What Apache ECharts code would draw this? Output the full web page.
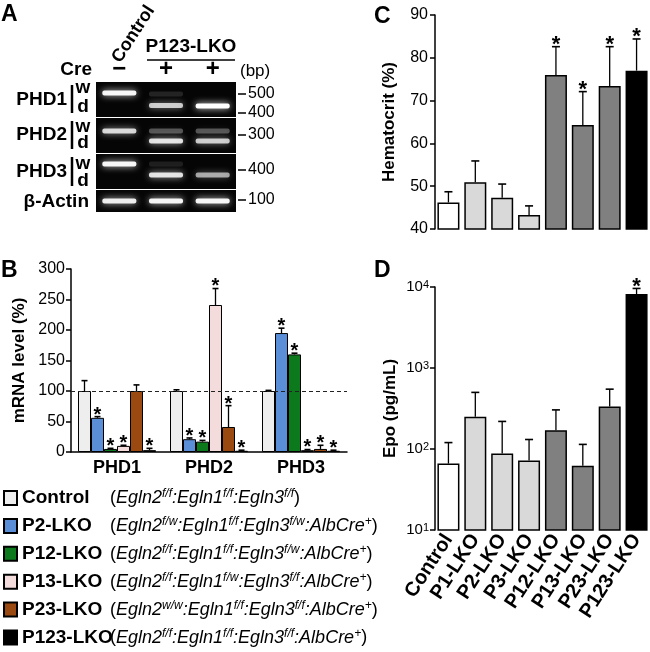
<!DOCTYPE html>
<html><head><meta charset="utf-8">
<script src="https://cdn.jsdelivr.net/npm/echarts@6/dist/echarts.min.js"></script>
<style>html,body{margin:0;padding:0;background:#fff}#c{width:650px;height:652px}</style>
</head><body><div id="c"></div>
<script>
const FONT = '"Liberation Sans", Arial, Helvetica, sans-serif';

// ---------- Panel A (gel) ----------
const gelLanes = ['Control', 'P123-LKO #1', 'P123-LKO #2'];
const creSigns = ['−', '+', '+'];
const gelNames = ['PHD1', 'PHD2', 'PHD3', 'β-Actin'];
const gelRangeBp = [[379, 563], [205, 389], [300, 484], [37, 153]];
const gelMarkers = [[500, 400], [300], [400], [100]];
// [lane, bp, intensity]
const gelBandsPHD1 = [[0, 505, 0.95], [1, 500, 0.12], [1, 440, 0.75], [2, 437, 1.0]];
const gelBandsPHD2 = [[0, 321, 0.8], [1, 321, 0.3], [1, 268, 0.85], [2, 321, 0.3], [2, 268, 0.75]];
const gelBandsPHD3 = [[0, 432, 0.95], [1, 432, 0.1], [1, 374, 0.85], [2, 374, 0.6]];
const gelBandsActin = [[0, 95, 0.9], [1, 95, 0.95], [2, 95, 0.95]];
const gelBands = [gelBandsPHD1, gelBandsPHD2, gelBandsPHD3, gelBandsActin];

// ---------- Panel B ----------
const catsB = ['PHD1', 'PHD2', 'PHD3'];
const namesB = ['Control', 'P2-LKO', 'P12-LKO', 'P13-LKO', 'P23-LKO', 'P123-LKO'];
const ctrlB = [100, 100, 100];
const p2B = [56, 21, 195];
const p12B = [5, 17, 160];
const p13B = [10, 241, 3];
const p23B = [100, 41, 5];
const p123B = [3, 2, 2];
const ctrlBErr = [17, 2, 1];
const p2BErr = [2, 2, 8];
const p12BErr = [1, 2, 2];
const p13BErr = [1, 27, 1];
const p23BErr = [10, 35, 6];
const p123BErr = [3, 1, 1];
const ctrlBSig = [0, 0, 0];
const p2BSig = [1, 1, 1];
const p12BSig = [1, 1, 1];
const p13BSig = [1, 1, 1];
const p23BSig = [0, 1, 1];
const p123BSig = [1, 1, 1];
const colorsB = ['#eeeeee', '#5a8fd8', '#0c7a1c', '#f5dcdc', '#9a4a10', '#000000'];
const genoEgln2 = ['f/f', 'f/w', 'f/f', 'f/f', 'w/w', 'f/f'];
const genoEgln1 = ['f/f', 'f/f', 'f/f', 'f/w', 'f/f', 'f/f'];
const genoEgln3 = ['f/f', 'f/w', 'f/w', 'f/f', 'f/f', 'f/f'];
const albCre = [false, true, true, true, true, true];

// ---------- Panels C & D ----------
const catsCD = ['Control', 'P1-LKO', 'P2-LKO', 'P3-LKO', 'P12-LKO', 'P13-LKO', 'P23-LKO', 'P123-LKO'];
const colorsCD = ['#ffffff', '#d9d9d9', '#d9d9d9', '#d9d9d9', '#808080', '#808080', '#808080', '#000000'];
const hct = [46.2, 50.9, 47.3, 43.3, 76.0, 64.3, 73.4, 77.0];
const hctErr = [2.5, 5.0, 3.2, 2.1, 6.6, 7.8, 9.2, 7.4];
const hctSig = [0, 0, 0, 0, 1, 1, 1, 1];
const epo = [66, 250, 88, 72, 170, 62, 335, 8200];
const epoErr = [54, 250, 131, 59, 134, 52, 213, 1400];
const epoSig = [0, 0, 0, 0, 0, 0, 0, 1];

// ---------- helpers ----------
function errRender(offsetFn, capW, starSize) {
  return function (params, api) {
    const x = api.value(0), m = api.value(1), e = api.value(2), sig = api.value(3);
    const p0 = api.coord([x, m]);
    const p1 = api.coord([x, m + e]);
    const cx = p0[0] + offsetFn(params);
    const ch = [];
    if (e > 0) {
      ch.push({ type: 'line', shape: { x1: cx, y1: p0[1], x2: cx, y2: p1[1] }, style: { stroke: '#000', lineWidth: 1.3 } });
      ch.push({ type: 'line', shape: { x1: cx - capW / 2, y1: p1[1], x2: cx + capW / 2, y2: p1[1] }, style: { stroke: '#000', lineWidth: 1.6 } });
    }
    if (sig) {
      ch.push({ type: 'text', style: { text: '*', x: cx, y: p1[1] + starSize * 0.42, align: 'center', verticalAlign: 'bottom', font: 'bold ' + starSize + 'px ' + FONT, fill: '#000' } });
    }
    return { type: 'group', children: ch };
  };
}

const valsB = [ctrlB, p2B, p12B, p13B, p23B, p123B];
const errsB = [ctrlBErr, p2BErr, p12BErr, p13BErr, p23BErr, p123BErr];
const sigsB = [ctrlBSig, p2BSig, p12BSig, p13BSig, p23BSig, p123BSig];

const grids = [
  { left: 71, top: 269, width: 276, height: 183 },          // B
  { left: 435, top: 15, width: 215, height: 214 },          // C
  { left: 435, top: 287, width: 215, height: 243 },         // D
  { left: 96, top: 82, width: 140, height: 35, show: true, backgroundColor: '#050505', borderWidth: 0 },
  { left: 96, top: 118, width: 140, height: 35, show: true, backgroundColor: '#050505', borderWidth: 0 },
  { left: 96, top: 154, width: 140, height: 35, show: true, backgroundColor: '#050505', borderWidth: 0 },
  { left: 96, top: 190, width: 140, height: 22, show: true, backgroundColor: '#050505', borderWidth: 0 }
];

const xAxes = [
  { gridIndex: 0, type: 'category', data: catsB, axisLine: { lineStyle: { color: '#000', width: 1.5 } }, axisTick: { show: false },
    axisLabel: { color: '#000', fontWeight: 'bold', fontSize: 18, margin: 7 } },
  { gridIndex: 1, type: 'category', data: catsCD, axisLine: { show: false }, axisTick: { show: false }, axisLabel: { show: false } },
  { gridIndex: 2, type: 'category', data: catsCD, axisLine: { show: false }, axisTick: { show: false },
    axisLabel: { color: '#000', fontWeight: 'bold', fontSize: 20, rotate: 57, interval: 0, margin: 6 } }
];
const yAxes = [
  { gridIndex: 0, type: 'value', min: 0, max: 300, interval: 50, splitLine: { show: false },
    axisLine: { show: true, lineStyle: { color: '#000', width: 1.5 } }, axisTick: { show: true, length: 5, lineStyle: { color: '#000', width: 1.5 } },
    axisLabel: { color: '#000', fontSize: 16, margin: 6 },
    name: 'mRNA level (%)', nameLocation: 'middle', nameGap: 43, nameTextStyle: { color: '#000', fontWeight: 'bold', fontSize: 17 } },
  { gridIndex: 1, type: 'value', min: 40, max: 90, interval: 10, splitLine: { show: false },
    axisLine: { show: true, lineStyle: { color: '#000', width: 1.5 } }, axisTick: { show: true, length: 5, lineStyle: { color: '#000', width: 1.5 } },
    axisLabel: { color: '#000', fontSize: 16, margin: 7 },
    name: 'Hematocrit (%)', nameLocation: 'middle', nameGap: 37, nameTextStyle: { color: '#000', fontWeight: 'bold', fontSize: 17 } },
  { gridIndex: 2, type: 'log', logBase: 10, min: 10, max: 10000, splitLine: { show: false }, minorTick: { show: false },
    axisLine: { show: true, lineStyle: { color: '#000', width: 1.5 } }, axisTick: { show: true, length: 5, lineStyle: { color: '#000', width: 1.5 } },
    axisLabel: { color: '#000', fontSize: 15, margin: 6,
      formatter: v => '10{s|' + Math.round(Math.log10(v)) + '}',
      rich: { s: { fontSize: 11, verticalAlign: 'top', lineHeight: 10, color: '#000' } } },
    name: 'Epo (pg/mL)', nameLocation: 'middle', nameGap: 36, nameTextStyle: { color: '#000', fontWeight: 'bold', fontSize: 17 } }
];

// gel axes
for (let g = 0; g < 4; g++) {
  const gi = 3 + g;
  xAxes.push({ gridIndex: gi, type: 'category', data: gelLanes, show: false });
  yAxes.push({ gridIndex: gi, type: 'value', position: 'right', offset: 2, min: gelRangeBp[g][0], max: gelRangeBp[g][1],
    splitLine: { show: false }, axisLine: { show: false },
    axisTick: { show: true, length: 8, customValues: gelMarkers[g], lineStyle: { color: '#000', width: 1.5 } },
    axisLabel: { show: true, customValues: gelMarkers[g], color: '#000', fontSize: 16, margin: 10 } });
}
// header axis (Cre signs) on top of PHD1 gel
xAxes.push({ gridIndex: 3, type: 'category', data: gelLanes, position: 'top', axisLine: { show: false }, axisTick: { show: false },
  axisLabel: { formatter: (v, i) => creSigns[i], color: '#000', fontWeight: 'bold', fontSize: 24, margin: 1 } });

const series = [];
// B bars
namesB.forEach((nm, i) => {
  const s = { type: 'bar', name: nm, xAxisIndex: 0, yAxisIndex: 0, data: valsB[i], barWidth: 13, barGap: '0%',
    itemStyle: { color: colorsB[i], borderColor: '#000', borderWidth: 1 } };
  if (i === 0) {
    s.markLine = { silent: true, symbol: 'none', label: { show: false }, lineStyle: { color: '#222', type: [4, 3], width: 1.2 }, data: [{ yAxis: 100 }] };
  }
  series.push(s);
});
// B error bars
namesB.forEach((nm, i) => {
  series.push({ type: 'custom', xAxisIndex: 0, yAxisIndex: 0, silent: true, z: 5,
    data: catsB.map((c, k) => [k, valsB[i][k], errsB[i][k], sigsB[i][k]]),
    encode: { x: 0, y: 1 },
    renderItem: errRender(() => (i - 2.5) * 13, 6, 20) });
});
// C
series.push({ type: 'bar', xAxisIndex: 1, yAxisIndex: 1, barWidth: 22,
  data: hct.map((v, k) => ({ value: v, itemStyle: { color: colorsCD[k] } })),
  itemStyle: { borderColor: '#000', borderWidth: 1.5 } });
series.push({ type: 'custom', xAxisIndex: 1, yAxisIndex: 1, silent: true, z: 5,
  data: hct.map((v, k) => [k, v, hctErr[k], hctSig[k]]), encode: { x: 0, y: 1 },
  renderItem: errRender(() => 0, 8, 22) });
// D
series.push({ type: 'bar', xAxisIndex: 2, yAxisIndex: 2, barWidth: 22,
  data: epo.map((v, k) => ({ value: v, itemStyle: { color: colorsCD[k] } })),
  itemStyle: { borderColor: '#000', borderWidth: 1.5 } });
series.push({ type: 'custom', xAxisIndex: 2, yAxisIndex: 2, silent: true, z: 5,
  data: epo.map((v, k) => [k, v, epoErr[k], epoSig[k]]), encode: { x: 0, y: 1 },
  renderItem: errRender(() => 0, 8, 22) });
// Gel bands
for (let g = 0; g < 4; g++) {
  series.push({ type: 'custom', xAxisIndex: 3 + g, yAxisIndex: 3 + g, silent: true,
    data: gelBands[g], encode: { x: 0, y: 1 },
    renderItem: (params, api) => {
      const p = api.coord([api.value(0), api.value(1)]);
      const a = api.value(2);
      return { type: 'rect', shape: { x: p[0] - 17, y: p[1] - 2.5, width: 34, height: 5, r: 2 },
        style: { fill: 'rgba(255,255,255,' + a + ')', shadowBlur: 7, shadowColor: 'rgba(255,255,255,' + (a * 0.9) + ')' } };
    } });
}

function genoText(i) {
  let s = '{p|(}{g|Egln2}{s|' + genoEgln2[i] + '}{g|:Egln1}{s|' + genoEgln1[i] + '}{g|:Egln3}{s|' + genoEgln3[i] + '}';
  if (albCre[i]) s += '{g|:AlbCre}{s|+}';
  return s + '{p|)}';
}

const T = (text, x, y, opt) => Object.assign({ type: 'text', x: x, y: y, silent: true,
  style: Object.assign({ text: text, fill: '#000', font: 'bold 19px ' + FONT, textAlign: 'left', textVerticalAlign: 'middle' }, opt || {}) });
const L = (x1, y1, x2, y2, w) => ({ type: 'line', silent: true, shape: { x1, y1, x2, y2 }, style: { stroke: '#000', lineWidth: w || 2 } });

const graphic = [
  T('A', 1, 15, { font: 'bold 23px ' + FONT }),
  T('B', 1, 271, { font: 'bold 23px ' + FONT }),
  T('C', 374, 17, { font: 'bold 23px ' + FONT }),
  T('D', 374, 271, { font: 'bold 23px ' + FONT }),
  // gel labels
  T(gelNames[0], 67, 100, { textAlign: 'right' }),
  T(gelNames[1], 67, 135, { textAlign: 'right' }),
  T(gelNames[2], 67, 172, { textAlign: 'right' }),
  T(gelNames[3], 89, 202, { textAlign: 'right' }),
  L(72, 85, 72, 113, 2.5), L(72, 121, 72, 149, 2.5), L(72, 157, 72, 186, 2.5),
  T('w', 83, 88, { textAlign: 'center' }), T('d', 83, 107, { textAlign: 'center' }),
  T('w', 83, 127, { textAlign: 'center' }), T('d', 83, 143, { textAlign: 'center' }),
  T('w', 83, 164, { textAlign: 'center' }), T('d', 83, 181, { textAlign: 'center' }),
  T('Cre', 92, 70, { textAlign: 'right' }),
  T('(bp)', 240, 71, { font: '17px ' + FONT }),
  T('P123-LKO', 191, 47, { textAlign: 'center' }),
  L(147, 60, 235, 60, 1.5),
  { type: 'text', x: 116, y: 61, rotation: 57 * Math.PI / 180, silent: true,
    style: { text: 'Control', fill: '#000', font: 'bold 18px ' + FONT, textAlign: 'left', textVerticalAlign: 'middle' } }
];

const option = {
  animation: false,
  backgroundColor: '#fff',
  textStyle: { fontFamily: FONT, color: '#000' },
  grid: grids,
  xAxis: xAxes,
  yAxis: yAxes,
  series: series,
  legend: {
    data: namesB, orient: 'vertical', left: 3, top: 488, padding: 0, itemWidth: 13, itemHeight: 14, itemGap: 8.4, icon: 'rect',
    selectedMode: false,
    formatter: name => '{n|' + name + '}' + genoText(namesB.indexOf(name)),
    textStyle: { color: '#000', fontFamily: FONT,
      rich: {
        n: { fontWeight: 'bold', fontSize: 19, width: 88, lineHeight: 20, color: '#000', fontFamily: FONT },
        p: { fontSize: 18, lineHeight: 20, color: '#000', fontFamily: FONT },
        g: { fontSize: 18, fontStyle: 'italic', lineHeight: 20, color: '#000', fontFamily: FONT },
        s: { fontSize: 12, fontStyle: 'italic', lineHeight: 11, verticalAlign: 'top', color: '#000', fontFamily: FONT }
      } }
  },
  graphic: graphic
};

const chart = echarts.init(document.getElementById('c'), null, { renderer: 'canvas' });
chart.setOption(option);
</script></body></html>
